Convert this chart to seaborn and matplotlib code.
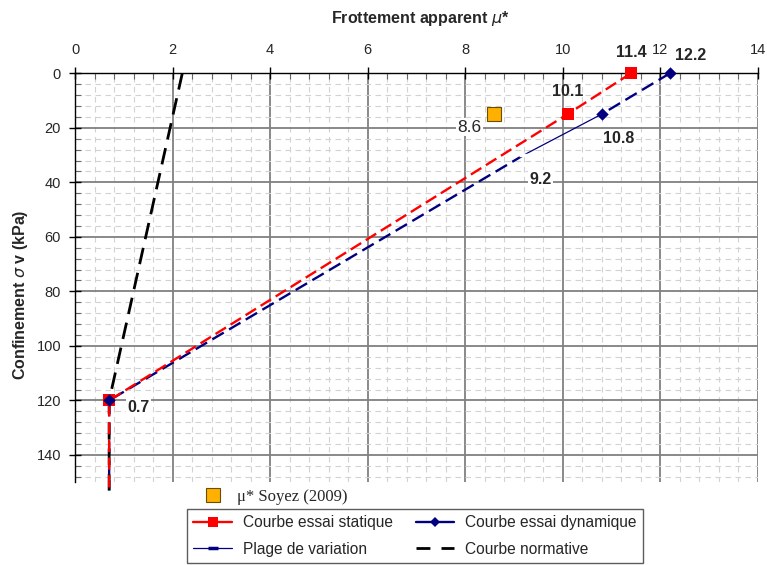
import matplotlib
matplotlib.use("Agg")
import matplotlib.pyplot as plt
from matplotlib.lines import Line2D
from matplotlib.ticker import MultipleLocator
import numpy as np
import pandas as pd
import seaborn as sns

# --- data -------------------------------------------------------------
# static test curve (mu*, sigma_v)
static_mu = [11.4, 10.1, 0.7, 0.7]
static_sig = [0, 15, 120, 153]
static_marked = [0, 1, 2]

# dynamic test curve, drawn as two pieces around the variation range
dyn_upper_mu = [12.2, 10.8]
dyn_upper_sig = [0, 15]
dyn_lower_mu = [9.2, 0.7, 0.7]
dyn_lower_sig = [30, 120, 153]
dyn_marked_mu = [12.2, 10.8, 0.7]
dyn_marked_sig = [0, 15, 120]

# variation range
range_mu = [10.8, 9.2]
range_sig = [15, 30]

# normative curve
norm_mu = [2.2, 0.7, 0.7]
norm_sig = [0, 120, 153]

# Soyez (2009)
soyez_mu = [8.6]
soyez_sig = [15]

x_ticks = [0, 2, 4, 6, 8, 10, 12, 14]
y_ticks = [0, 20, 40, 60, 80, 100, 120, 140]

RED = "#FF0000"
NAVY = "#000080"
ORANGE = "#FFB000"

sns.set_theme(style="white")
plt.rcParams["font.family"] = ["Liberation Sans", "DejaVu Sans"]
plt.rcParams["mathtext.fontset"] = "dejavusans"

fig = plt.figure(figsize=(7.67, 5.65), dpi=100)
ax = fig.add_axes([0.0978, 0.1465, 0.8901, 0.7238])
ax.set_facecolor("white")

# --- curves -----------------------------------------------------------
def dashed(xs, ys, color, lw, dash, z):
    sns.lineplot(x=xs, y=ys, sort=False, estimator=None, color=color,
                 linewidth=lw, ax=ax, zorder=z)
    ln = ax.lines[-1]
    ln.set_dashes(dash)
    ln.set_clip_on(False)
    return ln

dashed(dyn_upper_mu, dyn_upper_sig, NAVY, 1.7, (5.6, 2.6), 3)
dashed(dyn_lower_mu, dyn_lower_sig, NAVY, 1.7, (5.6, 2.6), 3)
dashed(norm_mu, norm_sig, "black", 2.0, (6, 3.2), 3.5)
dashed(static_mu, static_sig, RED, 1.7, (5.2, 2.3), 4)

sns.lineplot(x=range_mu, y=range_sig, sort=False, estimator=None,
             color=NAVY, linewidth=0.9, ax=ax, zorder=4)
rl = ax.lines[-1]
rl.set_marker("_")
rl.set_markersize(7)
rl.set_markeredgewidth(2.5)
rl.set_markevery([1])

sns.scatterplot(x=[static_mu[i] for i in static_marked],
                y=[static_sig[i] for i in static_marked],
                marker="s", s=80, color=RED, edgecolor=RED, linewidth=0,
                ax=ax, zorder=5)
sns.scatterplot(x=dyn_marked_mu, y=dyn_marked_sig, marker="D", s=40,
                color=NAVY, edgecolor=NAVY, linewidth=0, ax=ax, zorder=6)
sns.scatterplot(x=soyez_mu, y=soyez_sig, marker="s", s=100, color=ORANGE,
                edgecolor="#6b4e00", linewidth=0.8, ax=ax, zorder=5)
for c in ax.collections:
    c.set_clip_on(False)

# --- value labels -----------------------------------------------------
box = dict(facecolor="white", edgecolor="none", pad=1.0)
labels = [
    (static_mu[0], static_sig[0], 0, 21, True),
    (dyn_upper_mu[0], dyn_upper_sig[0], 21, 18, True),
    (static_mu[1], static_sig[1], 0, 23, True),
    (dyn_upper_mu[1], dyn_upper_sig[1], 17, -24, True),
    (range_mu[1], range_sig[1], 17, -24, True),
    (soyez_mu[0], soyez_sig[0], -25, -13, False),
    (static_mu[2], static_sig[2], 29, -7, True),
]
for mu, sig, dx, dy, bold in labels:
    ax.annotate(f"{mu:.1f}", (mu, sig), xytext=(dx, dy),
                textcoords="offset pixels", ha="center", va="center",
                fontsize=11.5 if bold else 12.5,
                fontweight="bold" if bold else "normal",
                bbox=box if not bold or dy < 0 else None, zorder=7,
                annotation_clip=False)

# --- axes -------------------------------------------------------------
ax.set_xlim(0, 14)
ax.set_ylim(150, 0)
ax.set_xticks(x_ticks)
ax.set_yticks(y_ticks)
ax.xaxis.set_minor_locator(MultipleLocator(0.4))
ax.yaxis.set_minor_locator(MultipleLocator(4))
ax.xaxis.tick_top()
ax.xaxis.set_label_position("top")
ax.tick_params(axis="both", which="major", direction="inout", length=8,
               width=1, color="black", labelsize=10.5)
ax.tick_params(axis="x", which="major", pad=8)
ax.tick_params(axis="y", which="major", pad=6)
ax.tick_params(axis="both", which="minor", direction="in", length=4,
               width=0.8, color="#666666")
ax.tick_params(axis="x", which="both", top=True, bottom=False)
ax.tick_params(axis="y", which="both", left=True, right=False)

ax.grid(which="major", color="#808080", linewidth=1.3, linestyle="-")
ax.grid(which="minor", color="#d2d2d2", linewidth=0.8, linestyle=(0, (5, 4)))
ax.set_axisbelow(True)

for side in ("right", "bottom"):
    ax.spines[side].set_visible(False)
for side in ("top", "left"):
    ax.spines[side].set_color("black")
    ax.spines[side].set_linewidth(1.0)

ax.set_xlabel(r"Frottement apparent $\mu$*", fontsize=11.5, fontweight="bold")
ax.xaxis.label.set_va("center")
ax.xaxis.set_label_coords(0.505, 1.135)
ax.set_ylabel(r"Confinement $\sigma$ v (kPa)", fontsize=11.5, fontweight="bold")
ax.yaxis.set_label_coords(-0.066, 0.458)

# --- legends ----------------------------------------------------------
soyez_handle = Line2D([], [], linestyle="none", marker="s", markersize=10,
                      markerfacecolor=ORANGE, markeredgecolor="#6b4e00",
                      markeredgewidth=0.8)
leg_s = fig.legend([soyez_handle], [r"μ* Soyez (2009)"], loc="center left",
                   bbox_to_anchor=(205 / 767, 1 - 497 / 565), frameon=False,
                   prop={"family": ["Liberation Serif", "DejaVu Serif"], "size": 12},
                   handletextpad=0.9, borderpad=0, borderaxespad=0,
                   handlelength=1.0)

h_static = Line2D([], [], color=RED, linewidth=1.7, marker="s", markersize=7,
                  markeredgewidth=0)
h_dyn = Line2D([], [], color=NAVY, linewidth=1.7, marker="D", markersize=5,
               markeredgewidth=0)
h_range = Line2D([], [], color=NAVY, linewidth=0.9, marker="_", markersize=7,
                 markeredgewidth=2.5)
h_norm = Line2D([], [], color="black", linewidth=2.0, dashes=(5, 4))
leg = fig.legend([h_static, h_range, h_dyn, h_norm],
                 ["Courbe essai statique", "Plage de variation",
                  "Courbe essai dynamique", "Courbe normative"],
                 ncol=2, loc="upper left",
                 bbox_to_anchor=(187 / 767, 1 - 509 / 565),
                 frameon=True, fancybox=False, edgecolor="#333333",
                 fontsize=11.2, handlelength=2.5, handletextpad=0.7,
                 columnspacing=1.45, labelspacing=0.75, borderpad=0.4,
                 borderaxespad=0, numpoints=1)
leg.get_frame().set_linewidth(1.0)

fig.savefig("out.png", dpi=100, facecolor="white")
